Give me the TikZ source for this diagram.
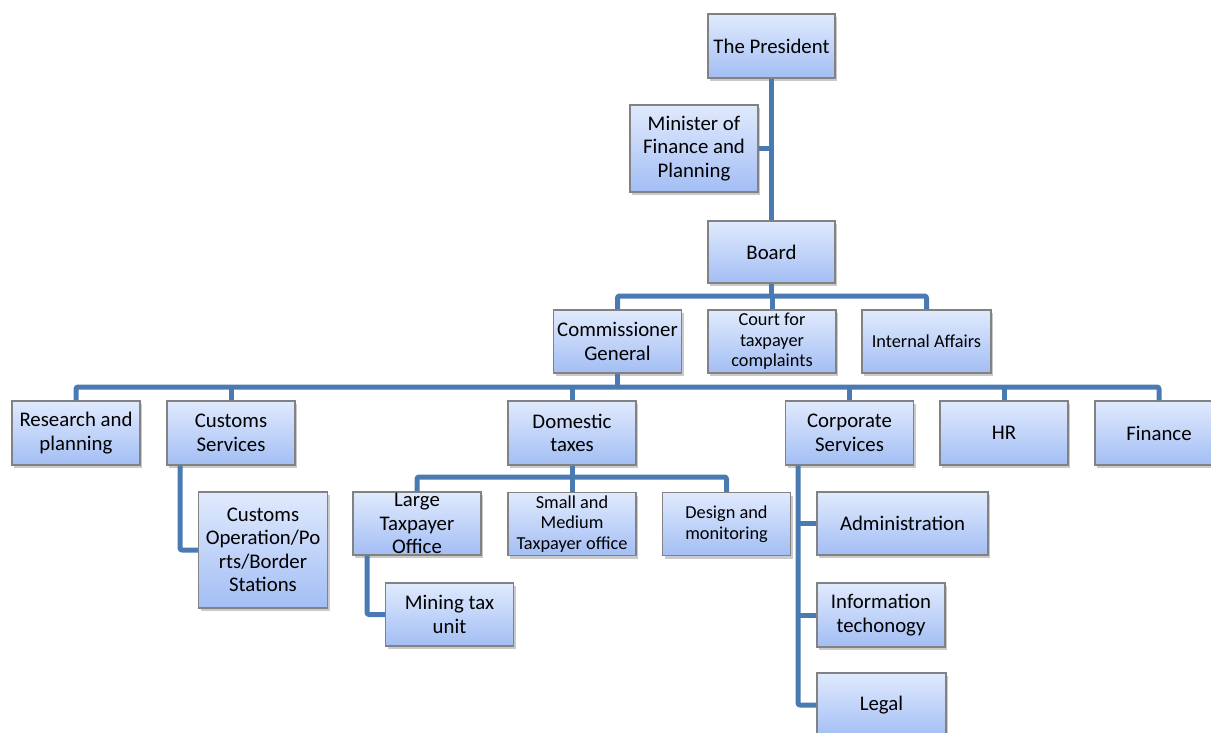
\documentclass[tikz,border=0pt]{standalone}
\usepackage{fontspec}
\setmainfont{Carlito}
\usetikzlibrary{shadows}
\definecolor{linkc}{RGB}{74,122,178}
\definecolor{boxtop}{RGB}{224,234,253}
\definecolor{boxbot}{RGB}{163,190,244}
\definecolor{boxedge}{RGB}{130,130,130}
\tikzset{
  orgbox/.style={draw=boxedge, line width=1.2pt, top color=boxtop, bottom color=boxbot,
    drop shadow={shadow xshift=2pt, shadow yshift=-3pt, opacity=0.35, fill=black!60},
    align=center, inner sep=1pt, font=\fontsize{20.8}{23.5}\selectfont},
  smalltxt/.style={font=\fontsize{18.3}{20.5}\selectfont},
  link/.style={draw=linkc, line width=5pt, line join=round, rounded corners=2pt}
}
\begin{document}
\begin{tikzpicture}[x=1pt,y=-1pt]
\useasboundingbox (0,0) rectangle (1211,733);
\clip (0,0) rectangle (1211,733);
% nodes
\node[orgbox, minimum width=127, minimum height=64] (pres) at (771.5,46) {The President};
\node[orgbox, minimum width=128, minimum height=87] (mini) at (694,148.5) {Minister of\\Finance and\\Planning};
\node[orgbox, minimum width=127, minimum height=62] (board) at (771.5,252) {Board};
\node[orgbox, minimum width=128, minimum height=63] (cg) at (617.5,341.5) {Commissioner\\General};
\node[orgbox, smalltxt, minimum width=128, minimum height=63] (court) at (772,341.5) {Court for\\taxpayer\\complaints};
\node[orgbox, smalltxt, minimum width=129, minimum height=63] (ia) at (926.5,341.5) {Internal Affairs};
\node[orgbox, minimum width=128, minimum height=64] (rp) at (76,433) {Research and\\planning};
\node[orgbox, minimum width=128, minimum height=64] (cs) at (231,433) {Customs\\Services};
\node[orgbox, minimum width=128, minimum height=64] (dt) at (572,433) {Domestic\\taxes};
\node[orgbox, minimum width=128, minimum height=64] (corp) at (849.5,433) {Corporate\\Services};
\node[orgbox, minimum width=128, minimum height=64] (hr) at (1004,433) {HR};
\node[orgbox, minimum width=128, minimum height=64] (fin) at (1159,433) {Finance};
\node[orgbox, minimum width=129, minimum height=116] (cop) at (263,550) {Customs\\Operation/Po\\rts/Border\\Stations};
\node[orgbox, minimum width=128, minimum height=63] (lto) at (417,523.5) {Large\\Taxpayer\\Office};
\node[orgbox, smalltxt, minimum width=128, minimum height=63] (sme) at (572,524) {Small and\\Medium\\Taxpayer office};
\node[orgbox, smalltxt, minimum width=128, minimum height=63] (dm) at (726.5,524) {Design and\\monitoring};
\node[orgbox, minimum width=128, minimum height=63] (mtu) at (449.5,614.5) {Mining tax\\unit};
\node[orgbox, minimum width=171, minimum height=63] (adm) at (902.5,523.5) {Administration};
\node[orgbox, minimum width=128, minimum height=64] (it) at (881,615) {Information\\techonogy};
\node[orgbox, minimum width=129, minimum height=64] (leg) at (881.5,705) {Legal};
% bus coordinates
\coordinate (bus1) at (771.5,296);
\coordinate (bus2) at (617.5,387);
\coordinate (bus3) at (572,477);
\coordinate (cstrunk) at ([xshift=-51pt]cs.south);
\coordinate (ltotrunk) at ([xshift=-50pt]lto.south);
\coordinate (corptrunk) at ([xshift=-51.5pt]corp.south);
% connectors
\draw[link] (pres.south) -- (board.north);
\draw[link] (mini.east) -- (mini.east -| pres.south);
\draw[link] (board.south) -- (bus1);
\draw[link] (cg.north) -- (cg.north |- bus1) -- (ia.north |- bus1) -- (ia.north);
\draw[link] (court.north) -- (court.north |- bus1);
\draw[link] (cg.south) -- (bus2);
\draw[link] (rp.north) -- (rp.north |- bus2) -- (fin.north |- bus2) -- (fin.north);
\foreach \n in {cs,dt,corp,hr} {\draw[link] (\n.north) -- (\n.north |- bus2);}
\draw[link] (dt.south) -- (bus3);
\draw[link] (lto.north) -- (lto.north |- bus3) -- (dm.north |- bus3) -- (dm.north);
\draw[link] (sme.north) -- (sme.north |- bus3);
\draw[link] (cstrunk) |- (cop.west);
\draw[link] (ltotrunk) |- (mtu.west);
\draw[link] (corptrunk) |- (leg.west);
\draw[link] (adm.west) -- (adm.west -| corptrunk);
\draw[link] (it.west) -- (it.west -| corptrunk);
\end{tikzpicture}
\end{document}
